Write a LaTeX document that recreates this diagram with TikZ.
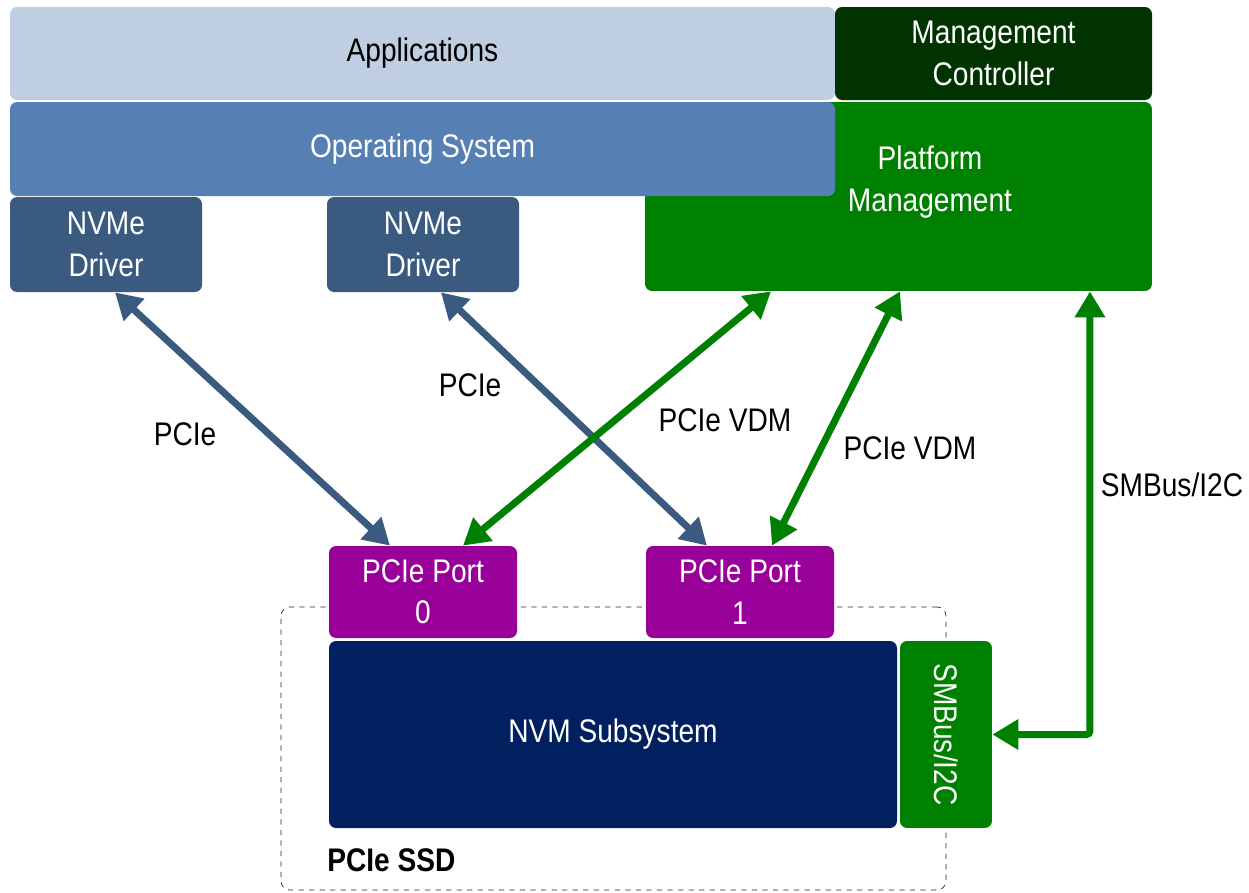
\documentclass[tikz,border=0pt]{standalone}
\usepackage{fontspec}
\setmainfont{Liberation Sans}[FakeStretch=0.86]
\usetikzlibrary{arrows.meta,positioning}

\definecolor{appblue}{HTML}{BFCFE1}
\definecolor{osblue}{HTML}{5680B3}
\definecolor{drvblue}{HTML}{3A5A80}
\definecolor{mcgreen}{HTML}{003300}
\definecolor{pmgreen}{HTML}{008000}
\definecolor{portpurple}{HTML}{990099}
\definecolor{nvmnavy}{HTML}{00205F}

\tikzstyle{txt} = [font=\fontsize{18.6}{23.5}\selectfont, align=center, inner sep=0pt]
\tikzstyle{block} = [txt, rounded corners=4pt]
\tikzstyle{ssdframe} = [draw=black!85, dashed, thin, rounded corners=5pt]
\tikzstyle{link} = [line width=0.14cm, {Triangle[length=0.52cm,width=0.58cm]}-{Triangle[length=0.52cm,width=0.58cm]}]
\tikzstyle{bluelink} = [link, draw=drvblue]
\tikzstyle{greenlink} = [link, draw=pmgreen]

\begin{document}
\begin{tikzpicture}[x=0.02cm,y=-0.02cm]
  \useasboundingbox (0,0) rectangle (1249,893);

  % ssd outline
  \node[ssdframe, minimum width=13.3cm, minimum height=5.66cm] (ssd) at (613.5,748.5) {};
  \node[txt, anchor=west] (ssdlabel) at (327,860) {\textbf{PCIe SSD}};

  % platform management sits behind the OS box
  \node[block, fill=pmgreen, minimum width=10.14cm, minimum height=3.78cm] (pm) at (898.5,196.5) {};
  \node[txt, text=white] (pmtext) at (930,182) {Platform\\Management};

  \foreach \nodename/\x/\y/\w/\h/\fillcol/\fg/\label in {
    apps/422.5/53.5/825/93/appblue/black/Applications,
    mc/993.5/53.5/317/93/mcgreen/white/{Management\\Controller},
    os/422.5/149/825/94/osblue/white/{Operating System},
    drv0/106/244.5/192/95/drvblue/white/{NVMe\\Driver},
    drv1/423/244.5/192/95/drvblue/white/{NVMe\\Driver},
    port0/423/592/188/92/portpurple/white/{PCIe Port\\0},
    port1/740/592/188/92/portpurple/white/{PCIe Port\\1},
    nvm/613/734.5/568/187/nvmnavy/white/{NVM Subsystem}}
  {
    \node[block, fill=\fillcol, text=\fg, minimum width=\w*0.02cm, minimum height=\h*0.02cm] (\nodename) at (\x,\y) {\label};
  }
  \node[block, fill=pmgreen, text=white, rotate=-90, minimum width=3.74cm, minimum height=1.84cm] (smb) at (946,734.5) {SMBus/I2C};

  %links
  \draw[bluelink] ([xshift=0.18cm]drv0.south) -- ([xshift=-0.66cm]port0.north);
  \draw[bluelink] ([xshift=0.36cm]drv1.south) -- ([xshift=-0.66cm]port1.north);
  \draw[greenlink] ([xshift=-2.55cm]pm.south) -- ([xshift=0.8cm]port0.north);
  \draw[greenlink] ([xshift=0.03cm]pm.south) -- ([xshift=0.64cm]port1.north);
  \coordinate (smbtap) at ([xshift=3.83cm]pm.south);
  \draw[greenlink, rounded corners=2pt] (smb.north) -| (smbtap);

  % link labels
  \node[txt] (l0) at (185,434) {PCIe};
  \node[txt] (l1) at (470,385) {PCIe};
  \node[txt] (l2) at (725,420) {PCIe VDM};
  \node[txt] (l3) at (910,448) {PCIe VDM};
  \node[txt] (l4) at (1172,485) {SMBus/I2C};
\end{tikzpicture}
\end{document}
